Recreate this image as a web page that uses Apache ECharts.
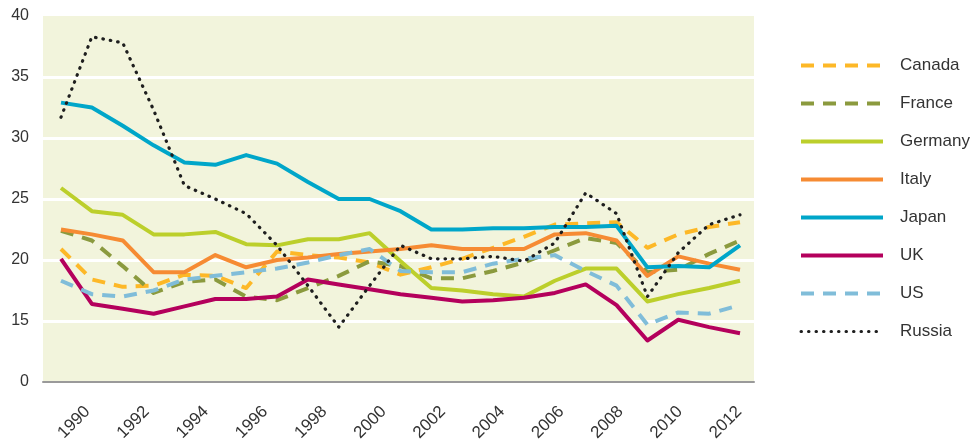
<!DOCTYPE html>
<html>
<head>
<meta charset="utf-8">
<script src="https://cdn.jsdelivr.net/npm/echarts@6/dist/echarts.min.js"></script>
<style>
  html, body { margin: 0; padding: 0; background: #fff; }
  #chart { width: 971px; height: 439px; }
</style>
</head>
<body>
<div id="chart"></div>
<script>
// years of the data (one point per year)
var years = ["1990", "1991", "1992", "1993", "1994", "1995", "1996", "1997", "1998", "1999", "2000",
  "2001", "2002", "2003", "2004", "2005", "2006", "2007", "2008", "2009", "2010", "2011", "2012"];
// years on the printed axis (labels only on even years)
var axisYears = ["1989", "1990", "1991", "1992", "1993", "1994", "1995", "1996", "1997", "1998", "1999", "2000",
  "2001", "2002", "2003", "2004", "2005", "2006", "2007", "2008", "2009", "2010", "2011", "2012"];

var canada  = [20.9, 18.4, 17.8, 17.9, 18.8, 18.7, 17.7, 20.7, 20.4, 20.2, 19.8, 18.8, 19.4, 20.1, 21.0, 21.9, 22.9, 23.0, 23.1, 21.0, 22.1, 22.7, 23.1];
var france  = [22.4, 21.6, 19.5, 17.3, 18.2, 18.4, 17.0, 16.7, 17.7, 18.7, 19.9, 19.5, 18.5, 18.5, 19.1, 19.8, 20.8, 21.8, 21.4, 19.0, 19.2, 20.5, 21.6];
var germany = [25.9, 24.0, 23.7, 22.1, 22.1, 22.3, 21.3, 21.2, 21.7, 21.7, 22.2, 19.9, 17.7, 17.5, 17.2, 17.0, 18.3, 19.3, 19.3, 16.6, 17.2, 17.7, 18.3];
var italy   = [22.5, 22.1, 21.6, 19.0, 19.0, 20.4, 19.4, 20.0, 20.2, 20.5, 20.7, 20.9, 21.2, 20.9, 20.9, 20.9, 22.1, 22.2, 21.6, 18.7, 20.3, 19.7, 19.2];
var japan   = [32.9, 32.5, 31.0, 29.4, 28.0, 27.8, 28.6, 27.9, 26.4, 25.0, 25.0, 24.0, 22.5, 22.5, 22.6, 22.6, 22.7, 22.7, 22.8, 19.4, 19.5, 19.4, 21.2];
var uk      = [20.1, 16.4, 16.0, 15.6, 16.2, 16.8, 16.8, 17.0, 18.4, 18.0, 17.6, 17.2, 16.9, 16.6, 16.7, 16.9, 17.3, 18.0, 16.3, 13.4, 15.1, 14.5, 14.0];
var us      = [18.3, 17.2, 17.0, 17.5, 18.4, 18.7, 19.0, 19.3, 19.8, 20.4, 20.9, 19.1, 19.0, 19.0, 19.7, 20.1, 20.4, 19.1, 17.9, 14.7, 15.7, 15.6, 16.3];
var russia  = [31.7, 38.3, 37.8, 32.3, 26.1, 25.0, 23.8, 21.2, 17.9, 14.5, 17.9, 21.2, 20.1, 20.1, 20.3, 19.9, 21.4, 25.5, 23.8, 17.0, 20.6, 22.9, 23.7];

// the axis is broken: the lowest tick (10) is printed as 0
var yTicks = [10, 15, 20, 25, 30, 35, 40];
var yTickLabels = ["0", "15", "20", "25", "30", "35", "40"];

var font = '"Liberation Sans Narrow", "Arial Narrow", "Liberation Sans", Arial, sans-serif';
var dash = [13, 9];
var dots = [0.5, 7];

function line(name, data, color, type, width) {
  return {
    name: name,
    type: "line",
    xAxisIndex: 1,
    yAxisIndex: 1,
    data: data,
    symbol: "none",
    showSymbol: false,
    silent: true,
    lineStyle: { color: color, width: width || 4, type: type || "solid", cap: type === dots ? "round" : "butt", join: "round" },
    itemStyle: { color: color }
  };
}

var chart = echarts.init(document.getElementById("chart"));
chart.setOption({
  animation: false,
  textStyle: { fontFamily: font },
  grid: [
    { left: 43, right: 217, top: 16, bottom: 57, outerBoundsMode: "none", show: true, backgroundColor: "#f2f4dc", borderWidth: 0 },
    { left: 61, right: 231, top: 16, bottom: 57, outerBoundsMode: "none" }
  ],
  legend: {
    orient: "vertical",
    left: 794,
    top: 52,
    itemWidth: 82,
    itemHeight: 14,
    itemGap: 21,
    textStyle: { fontSize: 17, color: "#333", fontFamily: font, padding: [0, 0, 0, 12] },
    // hide the marker that line legends draw in the middle of the line
    itemStyle: { color: "rgba(0,0,0,0)", borderWidth: 0, opacity: 0 },
    lineStyle: { width: 4 },
    data: ["Canada", "France", "Germany", "Italy", "Japan", "UK", "US",
      { name: "Russia", lineStyle: { width: 3 } }]
  },
  xAxis: [
    {
      type: "category",
      gridIndex: 0,
      data: axisYears,
      boundaryGap: true,
      axisLine: { lineStyle: { color: "#9a9a9a", width: 2 } },
      axisTick: { interval: 1, length: 8, lineStyle: { color: "#9a9a9a", width: 1.5 } },
      axisLabel: {
        interval: function (index) { return index % 2 === 1; },
        rotate: 45,
        margin: 27,
        fontSize: 17,
        color: "#333",
        fontFamily: font
      },
      splitLine: { show: false }
    },
    { type: "category", gridIndex: 1, data: years, boundaryGap: false, show: false }
  ],
  yAxis: [
    {
      type: "value",
      gridIndex: 0,
      min: 10,
      max: 40,
      interval: 5,
      axisLine: { show: false },
      axisTick: { show: false },
      axisLabel: {
        margin: 14,
        fontSize: 16,
        color: "#333",
        fontFamily: font,
        formatter: function (v) { return yTickLabels[yTicks.indexOf(v)]; }
      },
      splitLine: {
        lineStyle: {
          width: 3,
          color: ["rgba(0,0,0,0)", "#fff", "#fff", "#fff", "#fff", "#fff", "rgba(0,0,0,0)"]
        }
      }
    },
    { type: "value", gridIndex: 1, min: 10, max: 40, interval: 5, show: false, splitLine: { show: false } }
  ],
  series: [
    line("Canada", canada, "#fdb827", dash),
    line("France", france, "#8b9a3e", dash),
    line("Germany", germany, "#bccf2b"),
    line("Italy", italy, "#f68b33"),
    line("Japan", japan, "#00a6c9"),
    line("UK", uk, "#b4005c"),
    line("US", us, "#80bdd9", dash),
    line("Russia", russia, "#1e1e1e", dots, 3.2)
  ]
});
</script>
</body>
</html>
